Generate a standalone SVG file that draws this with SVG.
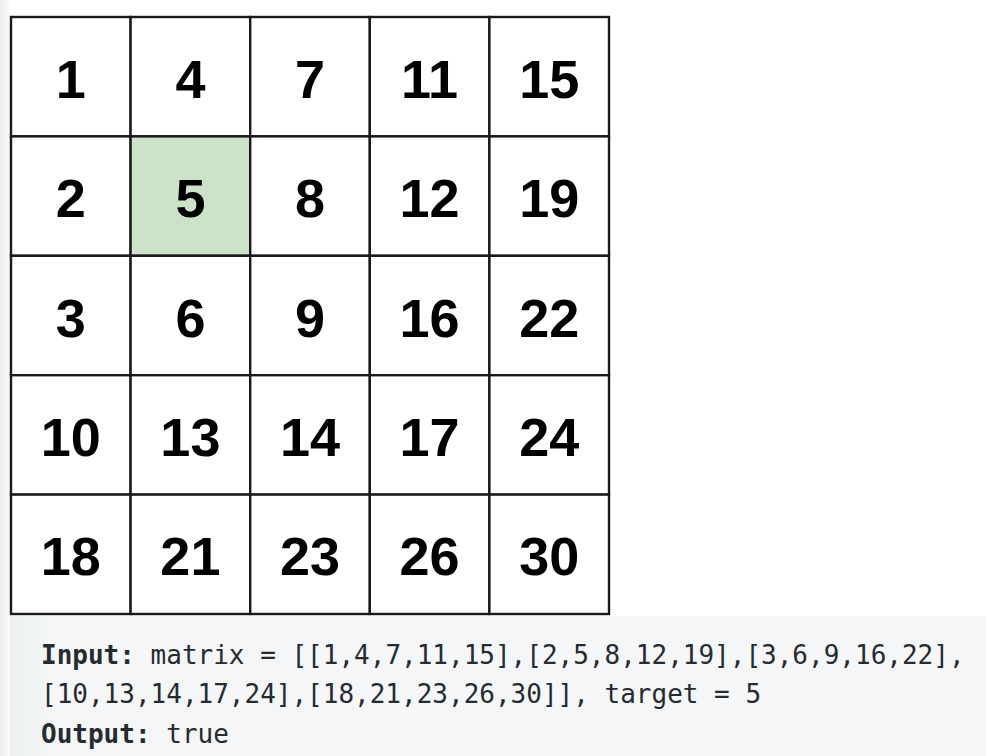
<svg xmlns="http://www.w3.org/2000/svg" width="986" height="756" viewBox="0 0 986 756">
<defs>
<linearGradient id="edge" x1="0" y1="0" x2="1" y2="0">
<stop offset="0" stop-color="#ececec"/>
<stop offset="1" stop-color="#ffffff"/>
</linearGradient>
<linearGradient id="codebg" x1="0" y1="0" x2="1" y2="0">
<stop offset="0" stop-color="#eceff0"/>
<stop offset="0.04" stop-color="#f4f6f7"/>
<stop offset="1" stop-color="#f4f6f7"/>
</linearGradient>
</defs>
<style>
.cell{fill:#ffffff;stroke:#1a1a1a;stroke-width:2.4}
.hit{fill:#cde3c9}
.num{font-family:"Liberation Sans",Arial,sans-serif;font-weight:bold;font-size:54px;fill:#000;text-anchor:middle}
.code{font-family:"DejaVu Sans Mono","Liberation Mono",monospace;font-size:26px;fill:#262b30}
.b{font-weight:bold}
</style>
<rect x="0" y="0" width="986" height="756" fill="#ffffff"/>
<rect x="0" y="0" width="12" height="756" fill="url(#edge)"/>
<g id="matrix">
<g id="r1">
<rect class="cell" x="11" y="17" width="119.6" height="119.4"/><text class="num" x="70.8" y="98">1</text>
<rect class="cell" x="130.6" y="17" width="119.6" height="119.4"/><text class="num" x="190.4" y="98">4</text>
<rect class="cell" x="250.2" y="17" width="119.6" height="119.4"/><text class="num" x="310" y="98">7</text>
<rect class="cell" x="369.8" y="17" width="119.6" height="119.4"/><text class="num" x="429.6" y="98">11</text>
<rect class="cell" x="489.4" y="17" width="119.6" height="119.4"/><text class="num" x="549.2" y="98">15</text>
</g>
<g id="r2">
<rect class="cell" x="11" y="136.4" width="119.6" height="119.4"/><text class="num" x="70.8" y="217.3">2</text>
<rect class="cell hit" x="130.6" y="136.4" width="119.6" height="119.4"/><text class="num" x="190.4" y="217.3">5</text>
<rect class="cell" x="250.2" y="136.4" width="119.6" height="119.4"/><text class="num" x="310" y="217.3">8</text>
<rect class="cell" x="369.8" y="136.4" width="119.6" height="119.4"/><text class="num" x="429.6" y="217.3">12</text>
<rect class="cell" x="489.4" y="136.4" width="119.6" height="119.4"/><text class="num" x="549.2" y="217.3">19</text>
</g>
<g id="r3">
<rect class="cell" x="11" y="255.8" width="119.6" height="119.4"/><text class="num" x="70.8" y="336.5">3</text>
<rect class="cell" x="130.6" y="255.8" width="119.6" height="119.4"/><text class="num" x="190.4" y="336.5">6</text>
<rect class="cell" x="250.2" y="255.8" width="119.6" height="119.4"/><text class="num" x="310" y="336.5">9</text>
<rect class="cell" x="369.8" y="255.8" width="119.6" height="119.4"/><text class="num" x="429.6" y="336.5">16</text>
<rect class="cell" x="489.4" y="255.8" width="119.6" height="119.4"/><text class="num" x="549.2" y="336.5">22</text>
</g>
<g id="r4">
<rect class="cell" x="11" y="375.2" width="119.6" height="119.4"/><text class="num" x="70.8" y="455.8">10</text>
<rect class="cell" x="130.6" y="375.2" width="119.6" height="119.4"/><text class="num" x="190.4" y="455.8">13</text>
<rect class="cell" x="250.2" y="375.2" width="119.6" height="119.4"/><text class="num" x="310" y="455.8">14</text>
<rect class="cell" x="369.8" y="375.2" width="119.6" height="119.4"/><text class="num" x="429.6" y="455.8">17</text>
<rect class="cell" x="489.4" y="375.2" width="119.6" height="119.4"/><text class="num" x="549.2" y="455.8">24</text>
</g>
<g id="r5">
<rect class="cell" x="11" y="494.6" width="119.6" height="119.4"/><text class="num" x="70.8" y="575">18</text>
<rect class="cell" x="130.6" y="494.6" width="119.6" height="119.4"/><text class="num" x="190.4" y="575">21</text>
<rect class="cell" x="250.2" y="494.6" width="119.6" height="119.4"/><text class="num" x="310" y="575">23</text>
<rect class="cell" x="369.8" y="494.6" width="119.6" height="119.4"/><text class="num" x="429.6" y="575">26</text>
<rect class="cell" x="489.4" y="494.6" width="119.6" height="119.4"/><text class="num" x="549.2" y="575">30</text>
</g>
</g>
<g id="example">
<rect x="10" y="616" width="976" height="140" fill="url(#codebg)"/>
<text class="code" x="41" y="664"><tspan class="b">Input:</tspan> matrix = [[1,4,7,11,15],[2,5,8,12,19],[3,6,9,16,22],</text>
<text class="code" x="41" y="703">[10,13,14,17,24],[18,21,23,26,30]], target = 5</text>
<text class="code" x="41" y="743"><tspan class="b">Output:</tspan> true</text>
</g>
</svg>
